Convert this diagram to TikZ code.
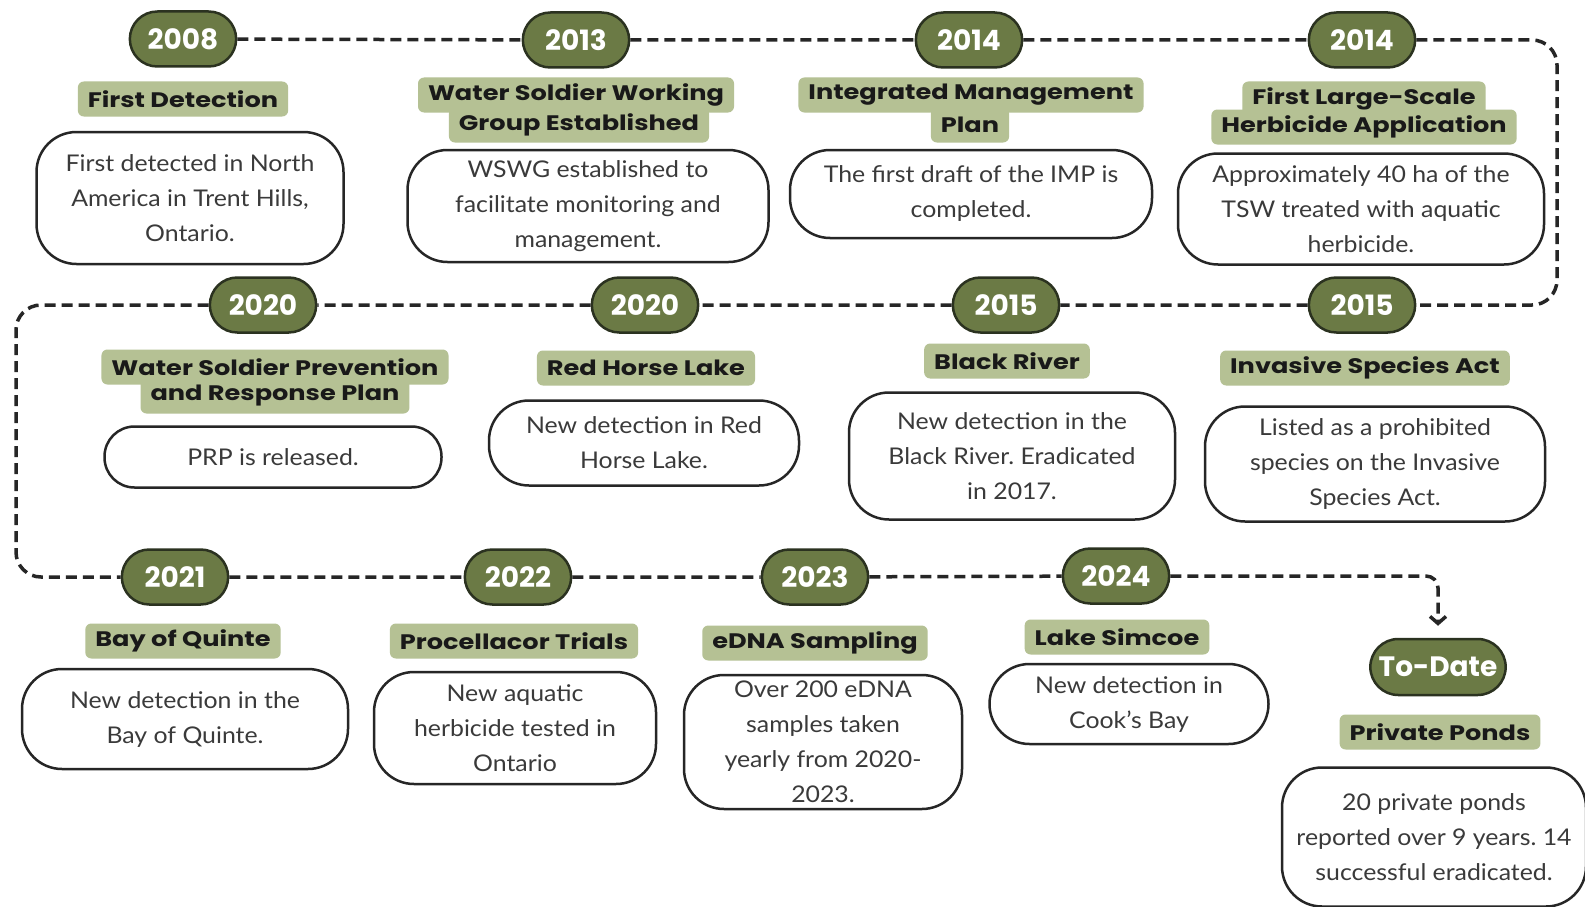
\documentclass[tikz,border=0pt]{standalone}
\usepackage{fontspec}
\setmainfont{Lato}[FakeStretch=1.08]
\newfontfamily\headfont{Poppins}
\newfontfamily\titlefont{Poppins}[FakeStretch=1.22]
\usetikzlibrary{positioning,shapes.misc,arrows.meta}
\frenchspacing
\definecolor{olivedark}{HTML}{6B7A45}
\definecolor{olivelight}{HTML}{B5C194}
\definecolor{oliveline}{HTML}{2B3220}
\definecolor{bodygrey}{HTML}{3A3A3A}
\tikzset{
  yearpill/.style={rounded rectangle, draw=oliveline, line width=2.5pt, fill=olivedark, text=white,
    font=\headfont\bfseries\fontsize{28}{30}\selectfont, minimum width=113pt, minimum height=55pt},
  titlebox/.style={fill=olivelight, rounded corners=6pt, text=black!90,
    font=\titlefont\bfseries\fontsize{21}{24}\selectfont, inner xsep=10pt, minimum height=35pt},
  descbox/.style={draw=black!85, line width=2.5pt, fill=white, rounded corners=40pt, align=center,
    text=bodygrey, font=\fontsize{23}{35}\selectfont},
  timeline/.style={draw=black!85, line width=3.5pt, dash pattern=on 11pt off 6pt}
}

\begin{document}
\begin{tikzpicture}[x=1pt,y=-1pt]
    \path[use as bounding box, fill=white] (0,0) rectangle (1585,907);

    % first row
    \node[yearpill] (yDetect) at (183,39) {2008};
    \node[yearpill] (yWswg) at (576,40) {2013};
    \node[yearpill] (yImp) at (969,40) {2014};
    \node[yearpill] (yHerb) at (1362,40) {2014};
    \node[titlebox] (tDetect) at (183,99) {First Detection};
    \node[titlebox] (tWswg) at (576,95) {Water Soldier Working};
    \node[titlebox] (tWswg2) at (579,125) {Group Established};
    \node[titlebox] (tImp) at (971,95) {Integrated Management};
    \node[titlebox] (tImp2) at (970,125) {Plan};
    \node[titlebox] (tHerb) at (1364,99) {First Large-Scale};
    \node[titlebox] (tHerb2) at (1364,127) {Herbicide Application};
    \node[descbox, minimum width=307pt, minimum height=132pt] (bDetect) at (190,198)
        {First detected in North\\America in Trent Hills,\\Ontario.};
    \node[descbox, minimum width=361pt, minimum height=112pt] (bWswg) at (588,206)
        {WSWG established to\\facilitate monitoring and\\management.};
    \node[descbox, minimum width=362pt, minimum height=88pt] (bImp) at (971,194)
        {The first draft of the IMP is\\completed.};
    \node[descbox, minimum width=366pt, minimum height=111pt] (bHerb) at (1361,209)
        {Approximately 40 ha of the\\TSW treated with aquatic\\herbicide.};

    % second row
    \node[yearpill] (yAct) at (1362,305) {2015};
    \node[yearpill] (yBlack) at (1006,305) {2015};
    \node[yearpill] (yRed) at (645,305) {2020};
    \node[yearpill] (yPrp) at (263,305) {2020};
    \node[titlebox] (tPrp) at (275,367) {Water Soldier Prevention};
    \node[titlebox] (tPrp2) at (275,396) {and Response Plan};
    \node[titlebox] (tRed) at (646,368) {Red Horse Lake};
    \node[titlebox] (tBlack) at (1007,361) {Black River};
    \node[titlebox] (tAct) at (1365,368) {Invasive Species Act};
    \node[descbox, minimum width=337pt, minimum height=61pt, rounded corners=30pt] (bPrp) at (273,457)
        {PRP is released.};
    \node[descbox, minimum width=310pt, minimum height=85pt] (bRed) at (644,443)
        {New detection in Red\\Horse Lake.};
    \node[descbox, minimum width=326pt, minimum height=127pt] (bBlack) at (1012,456)
        {New detection in the\\Black River. Eradicated\\in 2017.};
    \node[descbox, minimum width=340pt, minimum height=115pt] (bAct) at (1375,464)
        {Listed as a prohibited\\species on the Invasive\\Species Act.};

    % third row
    \node[yearpill] (yQuinte) at (175,577) {2021};
    \node[yearpill] (yProc) at (518,577) {2022};
    \node[yearpill] (yEdna) at (815,577) {2023};
    \node[yearpill] (ySimcoe) at (1116,576) {2024};
    \node[yearpill, minimum width=142pt, minimum height=56pt] (yToDate) at (1438,667) {To-Date};
    \node[titlebox] (tQuinte) at (183,641) {Bay of Quinte};
    \node[titlebox] (tProc) at (514,641) {Procellacor Trials};
    \node[titlebox] (tEdna) at (815,643) {eDNA Sampling};
    \node[titlebox] (tSimcoe) at (1117,637) {Lake Simcoe};
    \node[titlebox] (tPonds) at (1440,732) {Private Ponds};
    \node[descbox, minimum width=326pt, minimum height=100pt] (bQuinte) at (185,719)
        {New detection in the\\Bay of Quinte.};
    \node[descbox, minimum width=282pt, minimum height=112pt] (bProc) at (515,728)
        {New aquatic\\herbicide tested in\\Ontario};
    \node[descbox, minimum width=278pt, minimum height=134pt] (bEdna) at (823,742)
        {Over 200 eDNA\\samples taken\\yearly from 2020-\\2023.};
    \node[descbox, minimum width=279pt, minimum height=80pt] (bSimcoe) at (1129,704)
        {New detection in\\Cook’s Bay};
    \node[descbox, minimum width=304pt, minimum height=139pt] (bPonds) at (1434,837)
        {20 private ponds\\reported over 9 years. 14\\successful eradicated.};

    % dashed timeline
    \coordinate (cRight) at (1557,170);
    \coordinate (cLeft) at (16,440);
    \draw[timeline] (yDetect) -- (yWswg);
    \draw[timeline] (yWswg) -- (yImp);
    \draw[timeline] (yImp) -- (yHerb);
    \draw[timeline, rounded corners=25pt] (yHerb) -| (cRight) |- (yAct);
    \draw[timeline] (yAct) -- (yBlack);
    \draw[timeline] (yBlack) -- (yRed);
    \draw[timeline] (yRed) -- (yPrp);
    \draw[timeline, rounded corners=25pt] (yPrp) -| (cLeft) |- (yQuinte);
    \draw[timeline] (yQuinte) -- (yProc);
    \draw[timeline] (yProc) -- (yEdna);
    \draw[timeline] (yEdna) -- (ySimcoe);
    \draw[timeline, rounded corners=12pt, -{Straight Barb[length=7pt,width=16pt]}, shorten >=12pt]
        (ySimcoe) -| (yToDate);
\end{tikzpicture}
\end{document}
